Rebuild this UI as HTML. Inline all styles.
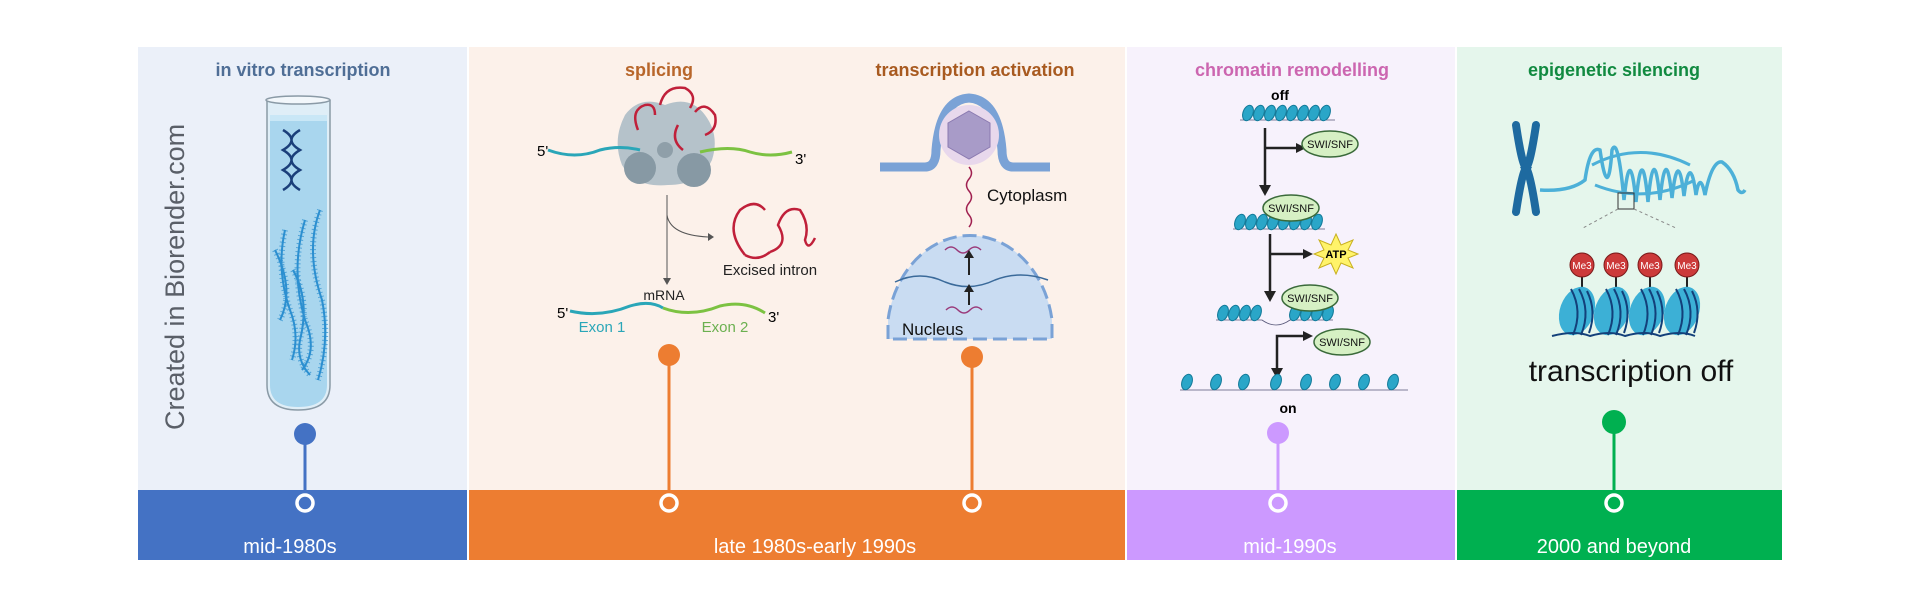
<!DOCTYPE html>
<html><head><meta charset="utf-8"><style>
html,body{margin:0;padding:0;background:#fff;}
svg{display:block}
text{font-family:"Liberation Sans",sans-serif}
</style></head><body>
<svg width="1920" height="600" viewBox="0 0 1920 600" xmlns="http://www.w3.org/2000/svg">
<defs>
<g id="nuc"><ellipse cx="0" cy="0" rx="5" ry="8" fill="#2aa6c8" stroke="#137a99" stroke-width="1" transform="rotate(20)"/></g>
<g id="bignuc"><ellipse cx="0" cy="0" rx="17" ry="25" fill="#3cb0d6" transform="rotate(20)"/><path d="M-6,-22 Q6,0 -4,24 M2,-22 Q14,0 4,24 M10,-20 Q20,0 12,22" stroke="#13407a" stroke-width="2" fill="none"/></g>
</defs>
<rect x="138" y="47" width="329" height="443" fill="#ebf0f9"/>
<rect x="469" y="47" width="656" height="443" fill="#fcf1ea"/>
<rect x="1127" y="47" width="328" height="443" fill="#f7f2fc"/>
<rect x="1457" y="47" width="325" height="443" fill="#e5f6ec"/>
<rect x="138" y="490" width="329" height="70" fill="#4472c4"/>
<rect x="469" y="490" width="656" height="70" fill="#ed7d31"/>
<rect x="1127" y="490" width="328" height="70" fill="#cc99ff"/>
<rect x="1457" y="490" width="325" height="70" fill="#00b050"/>
<g font-size="20" fill="#fff" text-anchor="middle">
<text x="290" y="553">mid-1980s</text>
<text x="815" y="553">late 1980s-early 1990s</text>
<text x="1290" y="553">mid-1990s</text>
<text x="1614" y="553">2000 and beyond</text>
</g>
<g font-size="18" font-weight="bold" text-anchor="middle">
<text x="303" y="76" fill="#4f6e96">in vitro transcription</text>
<text x="659" y="76" fill="#b8662a">splicing</text>
<text x="975" y="76" fill="#a85a20">transcription activation</text>
<text x="1292" y="76" fill="#cc66b0">chromatin remodelling</text>
<text x="1614" y="76" fill="#118a40">epigenetic silencing</text>
</g>
<g stroke-width="3">
<line x1="305" y1="434" x2="305" y2="495" stroke="#4472c4"/><circle cx="305" cy="434" r="11" fill="#4472c4"/>
<line x1="669" y1="355" x2="669" y2="495" stroke="#ed7d31"/><circle cx="669" cy="355" r="11" fill="#ed7d31"/>
<line x1="972" y1="357" x2="972" y2="495" stroke="#ed7d31"/><circle cx="972" cy="357" r="11" fill="#ed7d31"/>
<line x1="1278" y1="433" x2="1278" y2="495" stroke="#cc99ff"/><circle cx="1278" cy="433" r="11" fill="#cc99ff"/>
<line x1="1614" y1="422" x2="1614" y2="495" stroke="#00b050"/><circle cx="1614" cy="422" r="12" fill="#00b050"/>
</g>
<g fill="none" stroke="#fff" stroke-width="3.5">
<circle cx="305" cy="503" r="8"/><circle cx="669" cy="503" r="8"/><circle cx="972" cy="503" r="8"/><circle cx="1278" cy="503" r="8"/><circle cx="1614" cy="503" r="8"/>
</g>
<text transform="translate(184,430) rotate(-90)" font-size="27" fill="#5a5f68">Created in Biorender.com</text>
<path d="M267,100 L267,385 Q267,410 298,410 Q330,410 330,385 L330,100" fill="#dfeef7" stroke="#8a9aa6" stroke-width="1.5"/>
<ellipse cx="298" cy="100" rx="32" ry="4" fill="#f2f7fb" stroke="#8a9aa6" stroke-width="1.5"/>
<path d="M270,117 L270,385 Q270,407 298,407 Q327,407 327,385 L327,117 Z" fill="#a9d6ee"/>
<rect x="270" y="115" width="57" height="6" fill="#c9e7f6"/>
<path d="M283,130 Q300,140 283,150 Q300,160 283,170 Q300,180 283,190 M300,130 Q283,140 300,150 Q283,160 300,170 Q283,180 300,190" stroke="#1b3f7a" stroke-width="2.5" fill="none"/>
<g stroke="#2c8fd0" fill="none">
<g stroke-width="2">
<path d="M285,230 Q276,270 290,310 Q300,335 292,360"/>
<path d="M305,220 Q290,270 305,320 Q318,350 302,370"/>
<path d="M320,210 Q305,250 322,300 Q330,340 318,380"/>
<path d="M293,270 Q310,300 300,340 Q296,360 310,375"/>
<path d="M275,250 Q295,290 280,320"/>
</g>
<g stroke-width="6" stroke-dasharray="1,3" opacity="0.7">
<path d="M285,230 Q276,270 290,310 Q300,335 292,360"/>
<path d="M305,220 Q290,270 305,320 Q318,350 302,370"/>
<path d="M320,210 Q305,250 322,300 Q330,340 318,380"/>
<path d="M293,270 Q310,300 300,340 Q296,360 310,375"/>
<path d="M275,250 Q295,290 280,320"/>
</g>
</g>
<g>
<path d="M625,115 Q640,95 665,105 Q690,95 705,115 Q720,135 712,160 Q700,185 668,185 Q635,188 622,165 Q612,140 625,115Z" fill="#b5c2ca"/>
<circle cx="694" cy="170" r="17" fill="#8799a4"/><circle cx="640" cy="168" r="16" fill="#8799a4"/><circle cx="665" cy="150" r="8" fill="#8f9fa9"/>
<path d="M638,130 Q630,110 645,105 Q655,103 655,115 M660,105 Q665,85 685,88 Q698,95 690,108 M695,112 Q705,100 715,115 Q718,130 705,135 M683,150 Q670,140 678,125" stroke="#c0203a" stroke-width="2.5" fill="none"/>
<path d="M548,150 Q575,160 600,150 Q620,145 640,150" stroke="#2aa6b8" stroke-width="3" fill="none"/>
<path d="M700,152 Q730,145 750,152 Q770,158 792,152" stroke="#7cc242" stroke-width="3" fill="none"/>
<text x="537" y="156" font-size="15">5'</text><text x="795" y="164" font-size="15">3'</text>
<line x1="667" y1="195" x2="667" y2="280" stroke="#555" stroke-width="1"/>
<path d="M667,215 Q670,235 708,237" stroke="#555" fill="none"/><path d="M708,233 L714,237 L708,241Z" fill="#555"/>
<path d="M663,278 L667,285 L671,278Z" fill="#555"/>
<path d="M745,255 Q725,230 740,210 Q755,198 765,210 M770,252 Q790,245 778,225 Q785,205 800,210 Q810,225 805,240 Q808,252 815,238" stroke="#c0203a" stroke-width="2.5" fill="none"/>
<path d="M745,255 Q758,262 770,252" stroke="#c0203a" stroke-width="2.5" fill="none"/>
<text x="770" y="275" font-size="15" text-anchor="middle" fill="#222">Excised intron</text>
<text x="664" y="300" font-size="14" text-anchor="middle" fill="#222">mRNA</text>
<path d="M570,311 Q600,318 630,306 Q650,300 663,308" stroke="#2aa6b8" stroke-width="3" fill="none"/>
<path d="M663,308 Q690,318 720,306 Q745,300 765,313" stroke="#7cc242" stroke-width="3" fill="none"/>
<text x="557" y="318" font-size="15">5'</text><text x="768" y="322" font-size="15">3'</text>
<text x="602" y="332" font-size="15" text-anchor="middle" fill="#2aa6b8">Exon 1</text>
<text x="725" y="332" font-size="15" text-anchor="middle" fill="#6bb050">Exon 2</text>
</g>
<g>
<path d="M880,167 L925,167 Q936,167 936,150 Q940,100 969,98 Q998,100 1002,150 Q1002,167 1013,167 L1050,167" stroke="#7aa2d6" stroke-width="9" fill="none"/>
<circle cx="969" cy="135" r="30" fill="#e8d8ec"/>
<polygon points="969,111 990,123 990,147 969,159 948,147 948,123" fill="#a89bc8" stroke="#8a7ab0"/>
<path d="M969,167 q5,6 0,12 q-5,6 0,12 q5,6 0,12 q-5,6 0,12 q5,6 0,12" stroke="#a02050" stroke-width="1.5" fill="none"/>
<text x="987" y="201" font-size="17" fill="#111">Cytoplasm</text>
<path d="M888,339 L888,320 A83,100 0 0 1 1052,320 L1052,339 Z" fill="#c9dcf2" stroke="#7aa2d6" stroke-width="3" stroke-dasharray="14,6"/>
<path d="M895,282 Q920,270 945,282 Q970,292 995,280 Q1020,270 1048,280" stroke="#3a6a9a" stroke-width="1.5" fill="none"/>
<path d="M945,250 q6,-6 12,0 q6,6 12,0 q6,-6 12,0" stroke="#9a3a7a" stroke-width="1.5" fill="none"/>
<path d="M946,310 q6,-6 12,0 q6,6 12,0 q6,-6 12,0" stroke="#9a3a7a" stroke-width="1.5" fill="none"/>
<line x1="969" y1="275" x2="969" y2="256" stroke="#222" stroke-width="2"/><path d="M964,258 L969,250 L974,258Z" fill="#222"/>
<line x1="969" y1="305" x2="969" y2="290" stroke="#222" stroke-width="2"/><path d="M964,292 L969,284 L974,292Z" fill="#222"/>
<text x="902" y="335" font-size="17" fill="#111">Nucleus</text>
</g>
<g>
<text x="1280" y="100" font-size="14" font-weight="bold" text-anchor="middle">off</text>
<line x1="1240" y1="120" x2="1335" y2="120" stroke="#557" stroke-width="0.8"/>
<g><use href="#nuc" x="1248" y="113"/><use href="#nuc" x="1259" y="113"/><use href="#nuc" x="1270" y="113"/><use href="#nuc" x="1281" y="113"/><use href="#nuc" x="1292" y="113"/><use href="#nuc" x="1303" y="113"/><use href="#nuc" x="1314" y="113"/><use href="#nuc" x="1325" y="113"/></g>
<g stroke="#222" stroke-width="2.5" fill="none">
<path d="M1265,128 L1265,186 M1265,148 L1298,148"/>
<path d="M1270,234 L1270,292 M1270,254 L1305,254"/>
<path d="M1277,370 L1277,336 L1305,336"/>
</g>
<g fill="#222"><path d="M1259,185 L1265,196 L1271,185Z"/><path d="M1296,143 L1306,148 L1296,153Z"/><path d="M1264,291 L1270,302 L1276,291Z"/><path d="M1303,249 L1313,254 L1303,259Z"/><path d="M1303,331 L1313,336 L1303,341Z"/><path d="M1271,368 L1277,379 L1283,368Z"/></g>
<line x1="1233" y1="229" x2="1325" y2="229" stroke="#557" stroke-width="0.8"/>
<g><use href="#nuc" x="1240" y="222"/><use href="#nuc" x="1251" y="222"/><use href="#nuc" x="1262" y="222"/><use href="#nuc" x="1273" y="222"/><use href="#nuc" x="1284" y="222"/><use href="#nuc" x="1295" y="222"/><use href="#nuc" x="1306" y="222"/><use href="#nuc" x="1317" y="222"/></g>
<path d="M1216,320 L1262,320 Q1276,330 1290,320 L1333,320" stroke="#557" stroke-width="0.8" fill="none"/>
<g><use href="#nuc" x="1223" y="313"/><use href="#nuc" x="1234" y="313"/><use href="#nuc" x="1245" y="313"/><use href="#nuc" x="1256" y="313"/><use href="#nuc" x="1295" y="313"/><use href="#nuc" x="1306" y="313"/><use href="#nuc" x="1317" y="313"/><use href="#nuc" x="1328" y="313"/></g>
<line x1="1180" y1="390" x2="1408" y2="390" stroke="#557" stroke-width="0.8"/>
<g><use href="#nuc" x="1187" y="382"/><use href="#nuc" x="1216" y="382"/><use href="#nuc" x="1244" y="382"/><use href="#nuc" x="1276" y="382"/><use href="#nuc" x="1306" y="382"/><use href="#nuc" x="1335" y="382"/><use href="#nuc" x="1364" y="382"/><use href="#nuc" x="1393" y="382"/></g>
<g fill="#d6f0c4" stroke="#3a6a3a" stroke-width="1.5">
<ellipse cx="1330" cy="144" rx="28" ry="13"/><ellipse cx="1291" cy="208" rx="28" ry="13"/><ellipse cx="1310" cy="298" rx="28" ry="13"/><ellipse cx="1342" cy="342" rx="28" ry="13"/>
</g>
<g font-size="11" text-anchor="middle" fill="#111">
<text x="1330" y="148">SWI/SNF</text><text x="1291" y="212">SWI/SNF</text><text x="1310" y="302">SWI/SNF</text><text x="1342" y="346">SWI/SNF</text>
</g>
<polygon points="1336,234 1341,245 1353,240 1348,250 1358,254 1348,258 1353,268 1341,263 1336,274 1331,263 1319,268 1324,258 1314,254 1324,250 1319,240 1331,245" fill="#fff36a" stroke="#c8b020"/>
<text x="1336" y="258" font-size="11" font-weight="bold" text-anchor="middle">ATP</text>
<text x="1288" y="413" font-size="14" font-weight="bold" text-anchor="middle">on</text>
</g>
<g>
<path d="M1516,125 Q1522,165 1526,168 Q1522,172 1516,212" stroke="#1e6aa0" stroke-width="8" stroke-linecap="round" fill="none"/>
<path d="M1536,125 Q1530,165 1526,168 Q1530,172 1536,212" stroke="#1e6aa0" stroke-width="8" stroke-linecap="round" fill="none"/>
<path d="M1540,190 Q1570,192 1585,180 Q1590,145 1600,150 Q1608,205 1612,150 Q1618,135 1624,200 Q1630,140 1636,202 Q1642,138 1648,202 Q1654,138 1660,200 Q1666,140 1672,198 Q1678,145 1684,196 Q1690,150 1696,195 Q1700,170 1705,195 Q1712,160 1722,162 Q1734,170 1738,190 Q1742,195 1745,190" stroke="#4cb0d8" stroke-width="3.5" fill="none"/>
<path d="M1592,165 Q1640,140 1690,165 M1595,185 Q1645,205 1695,180" stroke="#4cb0d8" stroke-width="3" fill="none"/>
<rect x="1618" y="193" width="16" height="16" fill="none" stroke="#333" stroke-width="1"/>
<path d="M1618,209 L1583,228 M1634,209 L1676,228" stroke="#888" stroke-dasharray="3,3"/>
<g stroke="#222" stroke-width="2"><line x1="1582" y1="277" x2="1582" y2="295"/><line x1="1616" y1="277" x2="1616" y2="295"/><line x1="1650" y1="277" x2="1650" y2="295"/><line x1="1687" y1="277" x2="1687" y2="295"/></g>
<g><use href="#bignuc" x="1577" y="311"/><use href="#bignuc" x="1612" y="311"/><use href="#bignuc" x="1647" y="311"/><use href="#bignuc" x="1682" y="311"/></g>
<path d="M1552,336 Q1575,330 1590,336 Q1610,330 1625,336 Q1645,330 1660,336 Q1680,330 1695,336" stroke="#13407a" stroke-width="2" fill="none"/>
<g fill="#cc3a3a" stroke="#7a1a1a"><circle cx="1582" cy="265" r="12"/><circle cx="1616" cy="265" r="12"/><circle cx="1650" cy="265" r="12"/><circle cx="1687" cy="265" r="12"/></g>
<g font-size="10" fill="#fff" text-anchor="middle"><text x="1582" y="269">Me3</text><text x="1616" y="269">Me3</text><text x="1650" y="269">Me3</text><text x="1687" y="269">Me3</text></g>
<text x="1631" y="381" font-size="30" text-anchor="middle" fill="#111">transcription off</text>
</g>
</svg>
</body></html>
